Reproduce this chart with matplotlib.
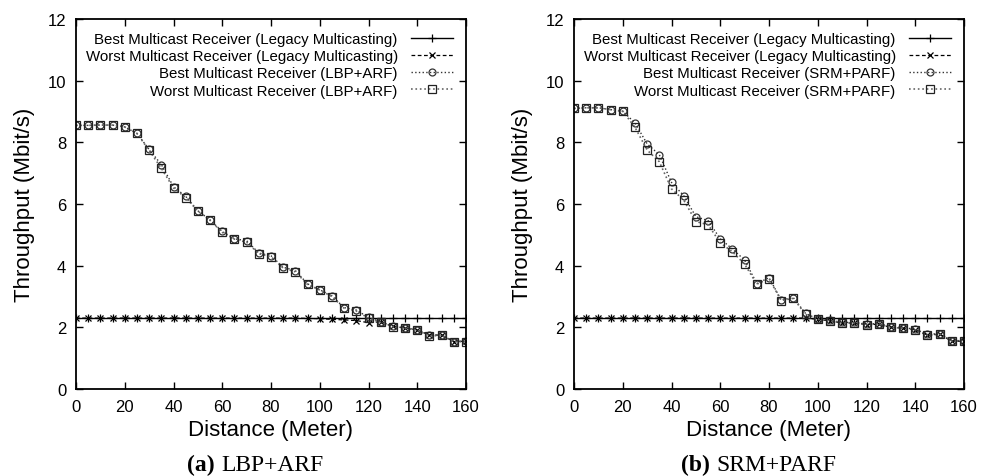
import numpy as np
import matplotlib
matplotlib.use('Agg')
import matplotlib.pyplot as plt

plt.rcParams['font.family'] = ['Liberation Sans', 'DejaVu Sans']

distance = list(range(0, 165, 5))

# panel (a): LBP+ARF
legacy_best_a = [2.3] * 33
legacy_worst_a = [2.3] * 19 + [2.29, 2.28, 2.26, 2.24, 2.22, 2.15, 2.18,
                                2.03, 1.98, 1.92, 1.75, 1.75, 1.54, 1.55]
lbp_best = [8.55, 8.55, 8.56, 8.56, 8.50, 8.29, 7.77, 7.28, 6.56, 6.25, 5.78,
            5.48, 5.11, 4.87, 4.81, 4.41, 4.32, 3.95, 3.84, 3.41, 3.22, 3.02,
            2.64, 2.56, 2.32, 2.18, 2.03, 1.98, 1.92, 1.75, 1.75, 1.54, 1.55]
lbp_worst = [8.55, 8.55, 8.56, 8.56, 8.50, 8.29, 7.74, 7.16, 6.52, 6.21, 5.77,
             5.47, 5.08, 4.86, 4.76, 4.39, 4.29, 3.92, 3.80, 3.39, 3.21, 3.00,
             2.62, 2.53, 2.30, 2.16, 2.02, 1.97, 1.91, 1.72, 1.74, 1.53, 1.54]

# panel (b): SRM+PARF
legacy_best_b = [2.3] * 33
srm_best = [9.10, 9.12, 9.12, 9.06, 9.01, 8.63, 7.95, 7.60, 6.70, 6.27, 5.59,
            5.46, 4.87, 4.54, 4.18, 3.42, 3.61, 2.89, 2.96, 2.45, 2.27, 2.23,
            2.16, 2.16, 2.11, 2.12, 2.02, 1.99, 1.94, 1.77, 1.80, 1.57, 1.57]
srm_worst = [9.10, 9.12, 9.12, 9.06, 9.01, 8.49, 7.75, 7.37, 6.49, 6.13, 5.43,
             5.33, 4.74, 4.45, 4.05, 3.40, 3.58, 2.87, 2.94, 2.42, 2.26, 2.21,
             2.14, 2.14, 2.09, 2.10, 2.00, 1.97, 1.92, 1.74, 1.78, 1.55, 1.55]
legacy_worst_b = [2.3] * 20 + srm_worst[20:]


def draw_panel(ax, best_legacy, worst_legacy, best_new, worst_new, scheme):
    ax.plot(distance, best_legacy, '-', color='black', linewidth=1.0,
            marker='+', markersize=6, markeredgewidth=0.9,
            label="Best Multicast Receiver (Legacy Multicasting)")
    ax.plot(distance, worst_legacy, '--', color='black', linewidth=0.9,
            dashes=(3, 2), marker='x', markersize=5, markeredgewidth=0.9,
            label="Worst Multicast Receiver (Legacy Multicasting)")
    ax.plot(distance, best_new, ':', color='#333333', linewidth=1.0,
            marker='o', markersize=5, markerfacecolor='none', markeredgewidth=0.9,
            label=f"Best Multicast Receiver ({scheme})")
    ax.plot(distance, worst_new, ':', color='#666666', linewidth=1.2,
            marker='s', markersize=6, markerfacecolor='none', markeredgecolor='#222222',
            markeredgewidth=0.9,
            label=f"Worst Multicast Receiver ({scheme})")

    ax.set_xlim(0, 160)
    ax.set_ylim(0, 12)
    ax.set_xticks(range(0, 161, 20))
    ax.set_yticks(range(0, 13, 2))
    ax.tick_params(direction='in', top=True, right=True, labelsize=12,
                   length=5, width=1.0, pad=7)
    for sp in ax.spines.values():
        sp.set_linewidth(1.3)
    ax.set_xlabel("Distance (Meter)", fontsize=16, labelpad=4)
    ax.set_ylabel("Throughput (Mbit/s)", fontsize=16, labelpad=9)
    ax.legend(loc='upper right', frameon=False, markerfirst=False,
              fontsize=10.8, handlelength=2.8, handletextpad=0.9,
              labelspacing=0.22, borderaxespad=0.5, borderpad=0.35)


fig = plt.figure(figsize=(9.83, 4.77), dpi=100)
ax1 = fig.add_axes([76 / 983, 1 - 390 / 477, 390 / 983, 370 / 477])
ax2 = fig.add_axes([574 / 983, 1 - 390 / 477, 390 / 983, 370 / 477])

draw_panel(ax1, legacy_best_a, legacy_worst_a, lbp_best, lbp_worst, "LBP+ARF")
draw_panel(ax2, legacy_best_b, legacy_worst_b, srm_best, srm_worst, "SRM+PARF")

cap_y = 1 - 471 / 477
serif = ['Liberation Serif', 'DejaVu Serif']
fig.text(215 / 983, cap_y, "(a)", ha='right', va='baseline', fontsize=17,
         fontweight='bold', family=serif)
fig.text(221 / 983, cap_y, "LBP+ARF", ha='left', va='baseline', fontsize=17,
         family=serif)
fig.text(710 / 983, cap_y, "(b)", ha='right', va='baseline', fontsize=17,
         fontweight='bold', family=serif)
fig.text(716 / 983, cap_y, "SRM+PARF", ha='left', va='baseline', fontsize=17,
         family=serif)

fig.savefig("out.png", dpi=100)
plt.close(fig)
